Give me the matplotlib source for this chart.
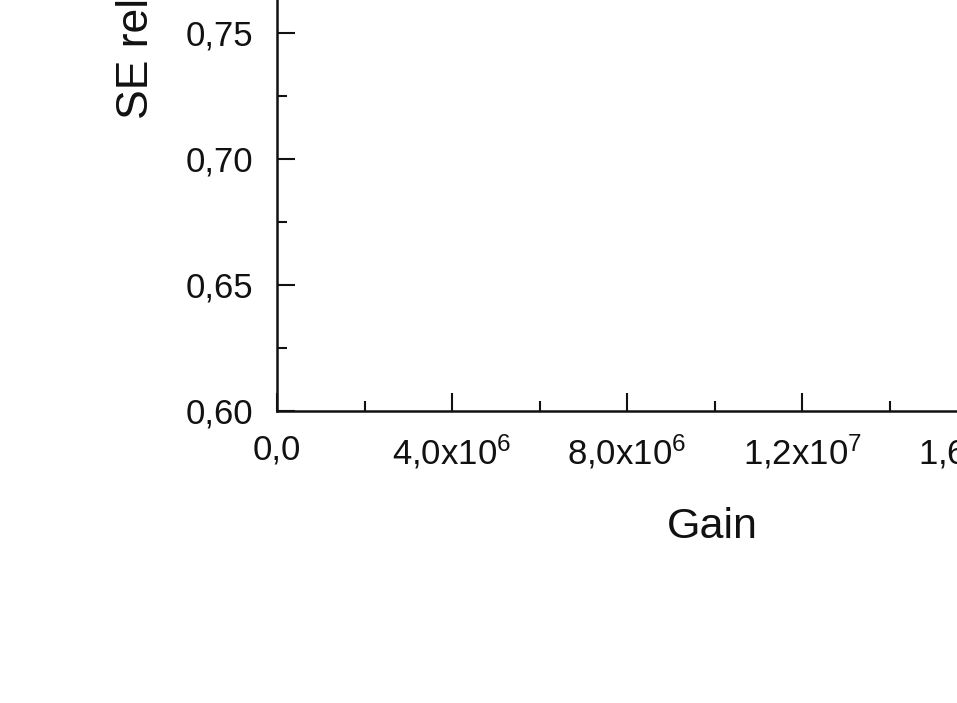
import matplotlib
matplotlib.use("Agg")
import matplotlib.pyplot as plt
from matplotlib.ticker import MultipleLocator, FixedLocator, FixedFormatter

plt.rcParams['font.family'] = ['Liberation Sans', 'DejaVu Sans']
plt.rcParams['mathtext.fontset'] = 'custom'
plt.rcParams['mathtext.rm'] = 'Liberation Sans'
plt.rcParams['mathtext.it'] = 'Liberation Sans:italic'
plt.rcParams['mathtext.bf'] = 'Liberation Sans:bold'

# Axis ranges and ticks
x_range = [0.0, 2.0e7]
y_range = [0.60, 0.80]
x_ticks = [0.0, 4.0e6, 8.0e6, 1.2e7, 1.6e7, 2.0e7]
x_tick_labels = ["0,0", "4,0x10$^{6}$", "8,0x10$^{6}$", "1,2x10$^{7}$",
                 "1,6x10$^{7}$", "2,0x10$^{7}$"]
y_ticks = [0.60, 0.65, 0.70, 0.75, 0.80]
y_tick_labels = ["0,60", "0,65", "0,70", "0,75", "0,80"]
x_label = "Gain"
y_label = "SE relative"

W, H = 957, 703
fig = plt.figure(figsize=(W / 100, H / 100), dpi=100)

# axes extend beyond the visible (cropped) figure area
left_px, bottom_px = 277, 411
w_px, h_px = 875, 504
ax = fig.add_axes([left_px / W, (H - bottom_px) / H, w_px / W, h_px / H])

ax.set_xlim(*x_range)
ax.set_ylim(*y_range)

ax.xaxis.set_major_locator(FixedLocator(x_ticks))
ax.xaxis.set_major_formatter(FixedFormatter(x_tick_labels))
ax.xaxis.set_minor_locator(MultipleLocator(2.0e6))
ax.yaxis.set_major_locator(FixedLocator(y_ticks))
ax.yaxis.set_major_formatter(FixedFormatter(y_tick_labels))
ax.yaxis.set_minor_locator(MultipleLocator(0.025))

for s in ax.spines.values():
    s.set_linewidth(1.8)
    s.set_color('#111111')

ax.tick_params(which='major', direction='in', length=13, width=1.5,
               labelsize=25, colors='#111111', pad=17)
ax.tick_params(which='minor', direction='in', length=7, width=1.5,
               colors='#111111')
ax.tick_params(axis='x', which='major', pad=16)

ax.set_xlabel(x_label, fontsize=31, color='#111111')
ax.xaxis.set_label_coords((712 - left_px) / w_px, -(507 - bottom_px) / h_px)
ax.xaxis.label.set_va('top')

ax.set_ylabel(y_label, fontsize=32, color='#111111', ha='left', va='center')
ax.yaxis.set_label_coords(-(left_px - 137) / w_px, (bottom_px - 119) / h_px)

fig.savefig("out.png", dpi=100)
